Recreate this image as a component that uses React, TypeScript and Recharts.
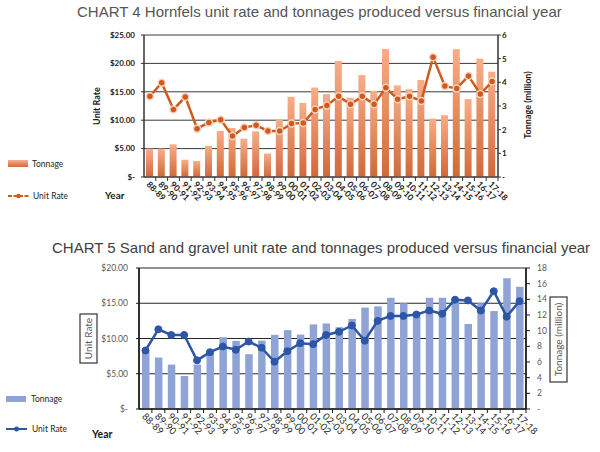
import { ComposedChart, Bar, Line, XAxis, YAxis, CartesianGrid } from "recharts"

const FONT = "Lato, 'Open Sans', sans-serif"
const TITLE_FONT = "'Liberation Sans', Arial, sans-serif"

const years = [
  "88-89", "89-90", "90-91", "91-92", "92-93", "93-94", "94-95", "95-96", "96-97", "97-98",
  "98-99", "99-00", "00-01", "01-02", "02-03", "03-04", "04-05", "05-06", "06-07", "07-08",
  "08-09", "09-10", "10-11", "11-12", "12-13", "13-14", "14-15", "15-16", "16-17", "17-18",
]

// Chart 4 - Hornfels
const hornfelsTonnage = [
  1.2, 1.2, 1.38, 0.73, 0.68, 1.31, 1.95, 2.07, 1.62, 1.93,
  0.99, 2.43, 3.39, 3.13, 3.78, 3.5, 4.9, 3.35, 4.31, 3.64,
  5.41, 3.87, 3.71, 4.1, 2.47, 2.61, 5.4, 3.29, 5.0, 4.45,
]
const hornfelsRate = [
  14.2, 16.6, 11.9, 14.1, 8.5, 9.6, 10.1, 7.2, 8.7, 9.1,
  8.1, 8.1, 9.4, 9.5, 11.9, 12.6, 14.2, 12.8, 14.2, 12.8,
  15.7, 13.7, 14.2, 13.4, 21.1, 16.0, 15.6, 17.8, 14.6, 16.8,
]
const hornfelsRateTicks = [0, 5, 10, 15, 20, 25]
const hornfelsTonnageTicks = [0, 1, 2, 3, 4, 5, 6]

// Chart 5 - Sand and gravel
const sandTonnage = [
  7.5, 6.57, 5.67, 4.22, 5.67, 7.2, 9.17, 8.7, 7.0, 8.74,
  9.47, 10.07, 9.5, 10.8, 10.9, 10.45, 11.5, 12.95, 13.1, 14.2,
  13.5, 12.1, 14.2, 14.2, 14.0, 10.85, 13.5, 12.5, 16.7, 15.6,
]
const sandRate = [
  8.3, 11.3, 10.5, 10.5, 6.9, 8.06, 8.86, 8.4, 9.57, 8.7,
  6.7, 8.2, 9.34, 9.2, 10.5, 10.95, 11.85, 9.69, 12.5, 13.2,
  13.2, 13.4, 13.96, 13.5, 15.5, 15.4, 13.96, 16.7, 13.1, 15.3,
]
const sandRateTicks = [0, 5, 10, 15, 20]
const sandTonnageTicks = [0, 2, 4, 6, 8, 10, 12, 14, 16, 18]

const hornfelsData = years.map((year, i) => ({ year, tonnage: hornfelsTonnage[i], rate: hornfelsRate[i] }))
const sandData = years.map((year, i) => ({ year, tonnage: sandTonnage[i], rate: sandRate[i] }))

const dollars = (v: number) => (v === 0 ? "$-" : `$${v.toFixed(2)}`)
const tonnes = (v: number) => (v === 0 ? "-" : String(v))

function YearTick(props: any) {
  const { x, y, payload, step, fill, fontWeight, fontSize, tickColor } = props
  const tx = x - 4
  const ty = y + 8
  return (
    <g>
      <line x1={x + step / 2} x2={x + step / 2} y1={y} y2={y + 4} stroke={tickColor} />
      <text
        x={tx}
        y={ty}
        transform={`rotate(45 ${tx} ${ty})`}
        textAnchor="start"
        fontSize={fontSize}
        fontWeight={fontWeight}
        fill={fill}
        fontFamily={FONT}
      >
        {payload.value}
      </text>
    </g>
  )
}

function HornfelsChart() {
  const axisColor = "#333333"
  const tickStyle = { fontSize: 8, fontWeight: 700, fill: "#1a1a1a", fontFamily: FONT }
  return (
    <ComposedChart width={600} height={226} data={hornfelsData} margin={{ top: 35, right: 82, bottom: 19, left: 104 }}>
      <defs>
        <linearGradient id="hornfelsBar" x1="0" y1="0" x2="0" y2="1">
          <stop offset="0%" stopColor="#f8ad88" />
          <stop offset="100%" stopColor="#d0693a" />
        </linearGradient>
      </defs>
      <CartesianGrid yAxisId="left" vertical={false} stroke="#3a3a3a" strokeWidth={1} />
      <XAxis
        dataKey="year"
        interval={0}
        height={30}
        tickSize={0}
        tickMargin={0}
        axisLine={{ stroke: axisColor, strokeWidth: 1.2 }}
        tick={<YearTick step={354 / 30} fontSize={8.5} fontWeight={700} fill="#1a1a1a" tickColor={axisColor} />}
      />
      <YAxis
        yAxisId="left"
        width={40}
        domain={[0, 25]}
        ticks={hornfelsRateTicks}
        tickFormatter={dollars}
        tickSize={3}
        tickMargin={6}
        axisLine={{ stroke: axisColor, strokeWidth: 1.5 }}
        tickLine={{ stroke: axisColor }}
        tick={tickStyle}
      />
      <YAxis
        yAxisId="right"
        orientation="right"
        width={20}
        domain={[0, 6]}
        ticks={hornfelsTonnageTicks}
        tickFormatter={tonnes}
        tickSize={3}
        tickMargin={1}
        axisLine={{ stroke: axisColor, strokeWidth: 1.5 }}
        tickLine={{ stroke: axisColor }}
        tick={tickStyle}
      />
      <Bar yAxisId="right" dataKey="tonnage" barSize={7} fill="url(#hornfelsBar)" isAnimationActive={false} />
      <Line
        yAxisId="left"
        type="linear"
        dataKey="rate"
        stroke="#cd5b1c"
        strokeWidth={2.5}
        dot={{ r: 3.5, fill: "#d5581b", stroke: "#f6d3c0", strokeWidth: 1.5 }}
        isAnimationActive={false}
      />
    </ComposedChart>
  )
}

function SandChart() {
  const axisColor = "#1a1a1a"
  const tickStyle = { fontSize: 8.5, fill: "#595959", fontFamily: FONT }
  return (
    <ComposedChart width={600} height={226} data={sandData} margin={{ top: 42, right: 54, bottom: 13, left: 94 }}>
      <CartesianGrid yAxisId="left" vertical={false} stroke="#262626" strokeWidth={1.2} />
      <XAxis
        dataKey="year"
        interval={0}
        height={30}
        tickSize={0}
        tickMargin={0}
        axisLine={{ stroke: axisColor, strokeWidth: 1.5 }}
        tick={<YearTick step={387 / 30} fontSize={9.5} fontWeight={400} fill="#262626" tickColor={axisColor} />}
      />
      <YAxis
        yAxisId="left"
        width={45}
        domain={[0, 20]}
        ticks={sandRateTicks}
        tickFormatter={dollars}
        tickSize={3}
        tickMargin={8}
        axisLine={{ stroke: axisColor, strokeWidth: 1.8 }}
        tickLine={{ stroke: axisColor }}
        tick={tickStyle}
      />
      <YAxis
        yAxisId="right"
        orientation="right"
        width={20}
        domain={[0, 18]}
        ticks={sandTonnageTicks}
        tickFormatter={tonnes}
        tickSize={4}
        tickMargin={7}
        axisLine={{ stroke: axisColor, strokeWidth: 1.8 }}
        tickLine={{ stroke: axisColor }}
        tick={tickStyle}
      />
      <Bar yAxisId="right" dataKey="tonnage" barSize={7.5} fill="#8fa3d6" isAnimationActive={false} />
      <Line
        yAxisId="left"
        type="linear"
        dataKey="rate"
        stroke="#2e56a6"
        strokeWidth={2.5}
        dot={{ r: 3.5, fill: "#2e56a6", stroke: "#2e56a6", strokeWidth: 1 }}
        isAnimationActive={false}
      />
    </ComposedChart>
  )
}

// titles, axis titles and the legends sit on top of both charts
function Overlay() {
  return (
    <svg width={600} height={452} style={{ position: "absolute", left: 0, top: 0, pointerEvents: "none" }}>
      <defs>
        <linearGradient id="legendBar" x1="0" y1="0" x2="0" y2="1">
          <stop offset="0%" stopColor="#f8ad88" />
          <stop offset="100%" stopColor="#d0693a" />
        </linearGradient>
      </defs>

      {/* Chart 4 */}
      <text x={77} y={17} fontFamily={TITLE_FONT} fontSize={15} fill="#555555">
        CHART 4 Hornfels unit rate and tonnages produced versus financial year
      </text>
      <text x={0} y={0} transform="translate(100 106) rotate(-90)" textAnchor="middle" fontFamily={FONT} fontSize={9} fontWeight={700} fill="#1a1a1a">
        Unit Rate
      </text>
      <text x={0} y={0} transform="translate(531 105) rotate(-90)" textAnchor="middle" fontFamily={FONT} fontSize={9} fontWeight={700} fill="#1a1a1a">
        Tonnage (million)
      </text>
      <rect x={8} y={160} width={20} height={7} fill="url(#legendBar)" />
      <text x={32} y={167} fontFamily={FONT} fontSize={8.5} fill="#262626">Tonnage</text>
      <line x1={8} x2={29} y1={196} y2={196} stroke="#cd5b1c" strokeWidth={2} strokeDasharray="4 1.5" />
      <circle cx={18.5} cy={196} r={2.3} fill="#d5581b" />
      <text x={33} y={199} fontFamily={FONT} fontSize={8.5} fill="#262626">Unit Rate</text>
      <text x={105} y={199} fontFamily={FONT} fontSize={10} fontWeight={700} fill="#1a1a1a">Year</text>

      {/* Chart 5 */}
      <text x={52} y={253} fontFamily={TITLE_FONT} fontSize={15} fill="#404040">
        CHART 5 Sand and gravel unit rate and tonnages produced versus financial year
      </text>
      <rect x={80} y={314} width={17} height={49} fill="none" stroke="#333333" strokeWidth={1.2} />
      <text x={0} y={0} transform="translate(92 338.5) rotate(-90)" textAnchor="middle" fontFamily={FONT} fontSize={10} fill="#595959">
        Unit Rate
      </text>
      <rect x={550} y={297} width={17} height={85} fill="none" stroke="#333333" strokeWidth={1.2} />
      <text x={0} y={0} transform="translate(562 339.5) rotate(-90)" textAnchor="middle" fontFamily={FONT} fontSize={10} fill="#595959">
        Tonnage (million)
      </text>
      <rect x={6} y={396} width={20} height={6} fill="#8fa3d6" />
      <text x={31} y={402} fontFamily={FONT} fontSize={8.5} fill="#262626">Tonnage</text>
      <line x1={6} x2={27} y1={429} y2={429} stroke="#2e56a6" strokeWidth={2} />
      <circle cx={16.5} cy={429} r={2.5} fill="#2e56a6" />
      <text x={32} y={432} fontFamily={FONT} fontSize={8.5} fill="#262626">Unit Rate</text>
      <text x={92} y={438} fontFamily={FONT} fontSize={10.5} fontWeight={700} fill="#1a1a1a">Year</text>
    </svg>
  )
}

export default function App() {
  return (
    <div style={{ position: "absolute", left: 0, top: 0, width: 600, height: 452, background: "#ffffff", overflow: "hidden" }}>
      <div style={{ position: "absolute", left: 0, top: 0 }}>
        <HornfelsChart />
      </div>
      <div style={{ position: "absolute", left: 0, top: 226 }}>
        <SandChart />
      </div>
      <Overlay />
    </div>
  )
}
